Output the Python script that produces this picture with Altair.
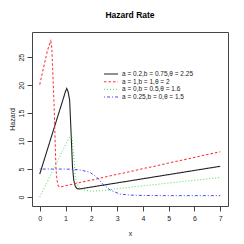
import altair as alt
import pandas as pd

labels = ["a = 0.2,b = 0.75,θ = 2.25", "a = 1,b = 1,θ = 2", "a = 0,b = 0.5,θ = 1.6", "a = 0.25,b = 0,θ = 1.5"]
colors = ["#222222", "#FF3333", "#44DD44", "#3333FF"]
dashes = [[1, 0], [2.5, 2], [1, 2], [1, 2, 3, 2]]

black_x = [0, 0.5, 0.86, 1.0, 1.05, 1.1, 1.16, 1.22, 1.27, 1.32, 1.38, 1.45, 1.55, 7]
black_y = [4.1, 11.5, 16.8, 18.9, 19.4, 18.8, 17.3, 11.0, 5.4, 3.0, 1.9, 1.5, 1.45, 5.5]
red_x = [0, 0.14, 0.3, 0.4, 0.43, 0.47, 0.5, 0.56, 0.6, 0.63, 0.67, 0.72, 0.78, 7]
red_y = [20.1, 23.0, 26.2, 27.6, 27.9, 26.5, 23.0, 16.0, 9.5, 5.0, 3.0, 2.0, 1.8, 8.1]
green_x = [0, 0.3, 0.6, 0.9, 1.1, 1.2, 1.25, 1.3, 1.38, 1.5, 1.65, 2.0, 2.5, 3, 7]
green_y = [0, 2.8, 5.6, 8.4, 10.3, 11.1, 10.8, 8.5, 3.6, 1.8, 1.3, 1.05, 1.15, 1.5, 3.5]
blue_x = [0, 0.5, 1.0, 1.3, 1.56, 1.8, 1.95, 2.2, 2.45, 2.73, 3.1, 3.5, 4, 5, 7]
blue_y = [5.0, 5.0, 5.0, 4.95, 4.85, 4.6, 4.4, 3.6, 2.3, 1.25, 0.55, 0.35, 0.28, 0.25, 0.25]

xs = [black_x, red_x, green_x, blue_x]
ys = [black_y, red_y, green_y, blue_y]

rows = []
for lab, xv, yv in zip(labels, xs, ys):
    for i, (a, b) in enumerate(zip(xv, yv)):
        rows.append({"series": lab, "x": a, "y": b, "i": i})
df = pd.DataFrame(rows)
leg = pd.DataFrame({"series": labels, "row": list(range(len(labels)))})

font = "Liberation Sans"
color_scale = alt.Scale(domain=labels, range=colors)
dash_scale = alt.Scale(domain=labels, range=dashes)
width_scale = alt.Scale(domain=labels, range=[1.1, 0.9, 0.9, 0.9])

lines = alt.Chart(df).mark_line(clip=True).encode(
    x=alt.X("x:Q", scale=alt.Scale(domain=[-0.3, 7.3], nice=False, zero=False),
            axis=alt.Axis(values=list(range(8)), title="x", grid=False)),
    y=alt.Y("y:Q", scale=alt.Scale(domain=[-1.6, 29.5], nice=False, zero=False),
            axis=alt.Axis(values=[0, 5, 10, 15, 20, 25], title="Hazard", grid=False,
                          labelAngle=270, labelAlign="center", labelBaseline="bottom")),
    color=alt.Color("series:N", scale=color_scale, legend=None),
    strokeDash=alt.StrokeDash("series:N", scale=dash_scale, legend=None),
    strokeWidth=alt.StrokeWidth("series:N", scale=width_scale, legend=None),
    detail="series:N",
    order="i:Q",
)

leg_y = alt.Y("row:O", scale=alt.Scale(type="point", range=[42, 65], padding=0), axis=None)
leg_lines = alt.Chart(leg).mark_rule().encode(
    x=alt.value(72), x2=alt.value(86),
    y=leg_y,
    color=alt.Color("series:N", scale=color_scale, legend=None),
    strokeDash=alt.StrokeDash("series:N", scale=dash_scale, legend=None),
    strokeWidth=alt.StrokeWidth("series:N", scale=width_scale, legend=None),
)
leg_text = alt.Chart(leg).mark_text(align="left", baseline="middle", fontSize=6.5, font=font, color="#222222").encode(
    x=alt.value(90),
    y=leg_y,
    text="series:N",
)

chart = alt.layer(lines, leg_lines, leg_text).resolve_scale(y="independent").properties(
    width=196, height=174,
    autosize=alt.AutoSizeParams(type="none"),
    padding={"left": 24, "top": 24, "right": 8, "bottom": 30},
    title=alt.TitleParams("Hazard Rate", font=font, fontSize=8.5, fontWeight="bold", offset=13, anchor="middle"),
).configure_view(stroke="#444444", strokeWidth=1).configure_axis(
    domain=False, tickColor="#444444", tickSize=5, labelFont=font, labelFontSize=7,
    labelColor="#222222", titleFont=font, titleFontSize=7, titleFontWeight="normal",
    titleColor="#222222", labelPadding=3,
).configure_axisX(titlePadding=8).configure_axisY(titlePadding=2)

chart.save("out.html", embed_options={"renderer": "svg", "actions": False})
